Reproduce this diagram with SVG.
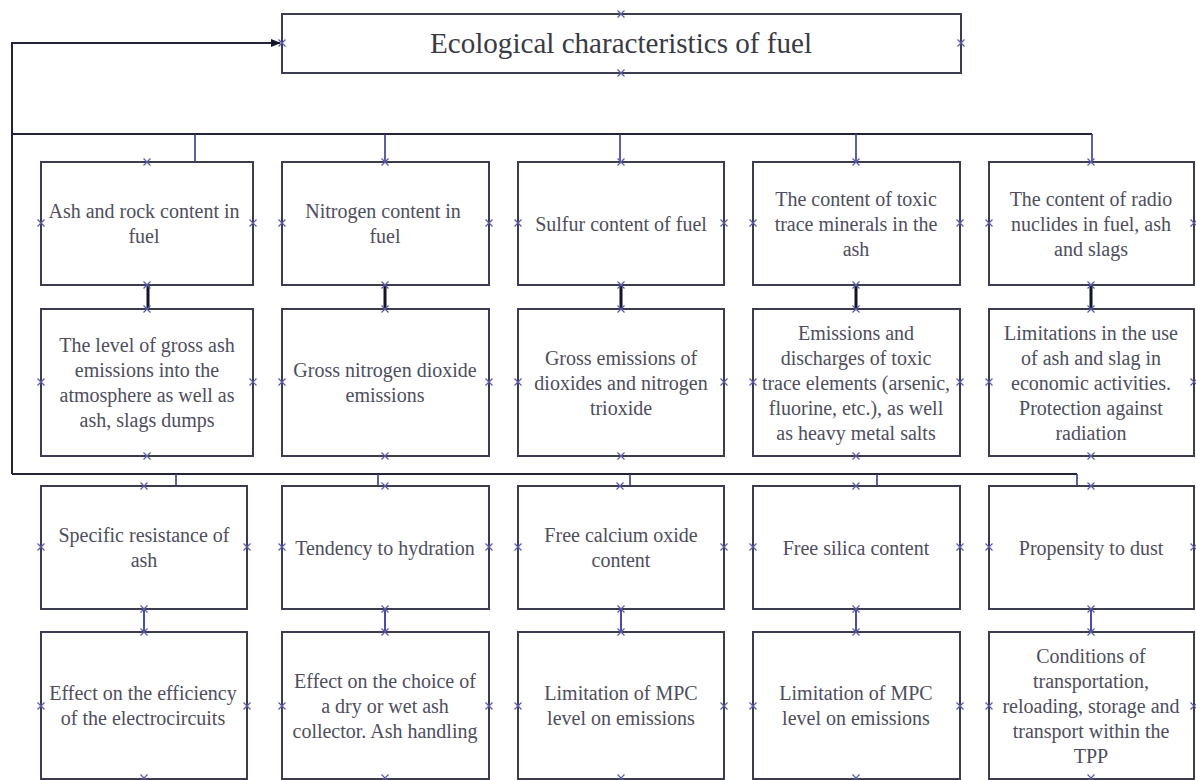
<svg xmlns="http://www.w3.org/2000/svg" xmlns:xlink="http://www.w3.org/1999/xlink" width="1196" height="780" viewBox="0 0 1196 780">
<style>
  .box { fill: #ffffff; stroke: #3c3c50; stroke-width: 2; }
  .t { font-family: "Liberation Serif", "Times New Roman", serif; font-size: 20px; fill: #4e4e5c; text-anchor: middle; }
  .title { font-family: "Liberation Serif", "Times New Roman", serif; font-size: 29px; fill: #3a3a44; text-anchor: middle; }
  .bus { fill: none; stroke: #22223a; stroke-width: 2; }
  .drop { fill: none; stroke: #3a3a8a; stroke-width: 1.6; }
  .link1 { fill: none; stroke: #15152a; stroke-width: 3; }
  .link2 { fill: none; stroke: #4a4ab0; stroke-width: 2; }
  .mk { fill: none; stroke: #5a5aa8; stroke-width: 1.2; }
</style>
<defs>
  <path id="mk" class="mk" d="M-3.5,-3.5 L3.5,3.5 M-3.5,3.5 L3.5,-3.5"/>
  <marker id="arr" markerWidth="10" markerHeight="8" refX="9" refY="4" orient="auto" markerUnits="userSpaceOnUse">
    <path d="M0,0 L10,4 L0,8 Z" fill="#15152a"/>
  </marker>
</defs>

<g id="connectors">
  <path class="bus" d="M12,474 L12,43 L280,43" marker-end="url(#arr)"/>
  <path class="bus" d="M12,134 L1092,134"/>
  <path class="drop" d="M195,134 V162 M385,134 V162 M620,134 V162 M856,134 V162 M1092,134 V162"/>
  <path class="link1" d="M148,285 V309 M385,285 V309 M621,285 V309 M856,285 V309 M1091,285 V309"/>
  <path class="bus" d="M12,474 L1077,474"/>
  <path class="drop" d="M176,474 V486 M378,474 V486 M630,474 V486 M877,474 V486 M1077,474 V486"/>
  <path class="link2" d="M144,609 V632 M385,609 V632 M621,609 V632 M856,609 V632 M1091,609 V632"/>
</g>

<g id="title">
  <rect class="box" x="282" y="14" width="679" height="59"/>
  <text class="title" x="621" y="53" textLength="382" lengthAdjust="spacingAndGlyphs">Ecological characteristics of fuel</text>
  <use href="#mk" x="621" y="14"/><use href="#mk" x="621" y="73"/><use href="#mk" x="282" y="43"/><use href="#mk" x="961" y="43"/>
</g>

<!-- Row 1 -->
<g id="r1c1">
  <rect class="box" x="41" y="162" width="212" height="123"/>
  <text class="t" x="144" y="218">Ash and rock content in</text>
  <text class="t" x="144" y="243">fuel</text>
  <use href="#mk" x="147" y="162"/><use href="#mk" x="147" y="285"/><use href="#mk" x="41" y="223"/><use href="#mk" x="253" y="223"/>
</g>
<g id="r1c2">
  <rect class="box" x="282" y="162" width="207" height="123"/>
  <text class="t" x="383" y="218">Nitrogen content in</text>
  <text class="t" x="385" y="243">fuel</text>
  <use href="#mk" x="385" y="162"/><use href="#mk" x="385" y="285"/><use href="#mk" x="282" y="223"/><use href="#mk" x="489" y="223"/>
</g>
<g id="r1c3">
  <rect class="box" x="518" y="162" width="206" height="123"/>
  <text class="t" x="621" y="230.5">Sulfur content of fuel</text>
  <use href="#mk" x="621" y="162"/><use href="#mk" x="621" y="285"/><use href="#mk" x="518" y="223"/><use href="#mk" x="724" y="223"/>
</g>
<g id="r1c4">
  <rect class="box" x="753" y="162" width="207" height="123"/>
  <text class="t" x="856" y="205.5">The content of toxic</text>
  <text class="t" x="856" y="230.5">trace minerals in the</text>
  <text class="t" x="856" y="255.5">ash</text>
  <use href="#mk" x="856" y="162"/><use href="#mk" x="856" y="285"/><use href="#mk" x="753" y="223"/><use href="#mk" x="960" y="223"/>
</g>
<g id="r1c5">
  <rect class="box" x="989" y="162" width="205" height="123"/>
  <text class="t" x="1091" y="205.5">The content of radio</text>
  <text class="t" x="1091" y="230.5">nuclides in fuel, ash</text>
  <text class="t" x="1091" y="255.5">and slags</text>
  <use href="#mk" x="1091" y="162"/><use href="#mk" x="1091" y="285"/><use href="#mk" x="989" y="223"/><use href="#mk" x="1194" y="223"/>
</g>

<!-- Row 2 -->
<g id="r2c1">
  <rect class="box" x="41" y="309" width="212" height="147"/>
  <text class="t" x="147" y="352">The level of gross ash</text>
  <text class="t" x="147" y="377">emissions into the</text>
  <text class="t" x="147" y="402">atmosphere as well as</text>
  <text class="t" x="147" y="427">ash, slags dumps</text>
  <use href="#mk" x="147" y="309"/><use href="#mk" x="147" y="456"/><use href="#mk" x="41" y="382"/><use href="#mk" x="253" y="382"/>
</g>
<g id="r2c2">
  <rect class="box" x="282" y="309" width="207" height="147"/>
  <text class="t" x="385" y="377">Gross nitrogen dioxide</text>
  <text class="t" x="385" y="402">emissions</text>
  <use href="#mk" x="385" y="309"/><use href="#mk" x="385" y="456"/><use href="#mk" x="282" y="382"/><use href="#mk" x="489" y="382"/>
</g>
<g id="r2c3">
  <rect class="box" x="518" y="309" width="206" height="147"/>
  <text class="t" x="621" y="364.5">Gross emissions of</text>
  <text class="t" x="621" y="389.5">dioxides and nitrogen</text>
  <text class="t" x="621" y="414.5">trioxide</text>
  <use href="#mk" x="621" y="309"/><use href="#mk" x="621" y="456"/><use href="#mk" x="518" y="382"/><use href="#mk" x="724" y="382"/>
</g>
<g id="r2c4">
  <rect class="box" x="753" y="309" width="207" height="147"/>
  <text class="t" x="856" y="339.5">Emissions and</text>
  <text class="t" x="856" y="364.5">discharges of toxic</text>
  <text class="t" x="856" y="389.5">trace elements (arsenic,</text>
  <text class="t" x="856" y="414.5">fluorine, etc.), as well</text>
  <text class="t" x="856" y="439.5">as heavy metal salts</text>
  <use href="#mk" x="856" y="309"/><use href="#mk" x="856" y="456"/><use href="#mk" x="753" y="382"/><use href="#mk" x="960" y="382"/>
</g>
<g id="r2c5">
  <rect class="box" x="989" y="309" width="205" height="147"/>
  <text class="t" x="1091" y="339.5">Limitations in the use</text>
  <text class="t" x="1091" y="364.5">of ash and slag in</text>
  <text class="t" x="1091" y="389.5">economic activities.</text>
  <text class="t" x="1091" y="414.5">Protection against</text>
  <text class="t" x="1091" y="439.5">radiation</text>
  <use href="#mk" x="1091" y="309"/><use href="#mk" x="1091" y="456"/><use href="#mk" x="989" y="382"/><use href="#mk" x="1194" y="382"/>
</g>

<!-- Row 3 -->
<g id="r3c1">
  <rect class="box" x="41" y="486" width="206" height="123"/>
  <text class="t" x="144" y="542">Specific resistance of</text>
  <text class="t" x="144" y="567">ash</text>
  <use href="#mk" x="144" y="486"/><use href="#mk" x="144" y="609"/><use href="#mk" x="41" y="547"/><use href="#mk" x="247" y="547"/>
</g>
<g id="r3c2">
  <rect class="box" x="282" y="486" width="207" height="123"/>
  <text class="t" x="385" y="554.5">Tendency to hydration</text>
  <use href="#mk" x="385" y="486"/><use href="#mk" x="385" y="609"/><use href="#mk" x="282" y="547"/><use href="#mk" x="489" y="547"/>
</g>
<g id="r3c3">
  <rect class="box" x="518" y="486" width="206" height="123"/>
  <text class="t" x="621" y="542">Free calcium oxide</text>
  <text class="t" x="621" y="567">content</text>
  <use href="#mk" x="620" y="486"/><use href="#mk" x="621" y="609"/><use href="#mk" x="518" y="547"/><use href="#mk" x="724" y="547"/>
</g>
<g id="r3c4">
  <rect class="box" x="753" y="486" width="207" height="123"/>
  <text class="t" x="856" y="554.5">Free silica content</text>
  <use href="#mk" x="856" y="486"/><use href="#mk" x="856" y="609"/><use href="#mk" x="753" y="547"/><use href="#mk" x="960" y="547"/>
</g>
<g id="r3c5">
  <rect class="box" x="989" y="486" width="205" height="123"/>
  <text class="t" x="1091" y="554.5">Propensity to dust</text>
  <use href="#mk" x="1091" y="486"/><use href="#mk" x="1091" y="609"/><use href="#mk" x="989" y="547"/><use href="#mk" x="1194" y="547"/>
</g>

<!-- Row 4 -->
<g id="r4c1">
  <rect class="box" x="41" y="632" width="206" height="147"/>
  <text class="t" x="143" y="700">Effect on the efficiency</text>
  <text class="t" x="143" y="725">of the electrocircuits</text>
  <use href="#mk" x="144" y="632"/><use href="#mk" x="144" y="778"/><use href="#mk" x="41" y="706"/><use href="#mk" x="247" y="706"/>
</g>
<g id="r4c2">
  <rect class="box" x="282" y="632" width="207" height="147"/>
  <text class="t" x="385" y="687.5">Effect on the choice of</text>
  <text class="t" x="385" y="712.5">a dry or wet ash</text>
  <text class="t" x="385" y="737.5">collector. Ash handling</text>
  <use href="#mk" x="385" y="632"/><use href="#mk" x="385" y="778"/><use href="#mk" x="282" y="706"/><use href="#mk" x="489" y="706"/>
</g>
<g id="r4c3">
  <rect class="box" x="518" y="632" width="206" height="147"/>
  <text class="t" x="621" y="700">Limitation of MPC</text>
  <text class="t" x="621" y="725">level on emissions</text>
  <use href="#mk" x="621" y="632"/><use href="#mk" x="621" y="778"/><use href="#mk" x="518" y="706"/><use href="#mk" x="724" y="706"/>
</g>
<g id="r4c4">
  <rect class="box" x="753" y="632" width="207" height="147"/>
  <text class="t" x="856" y="700">Limitation of MPC</text>
  <text class="t" x="856" y="725">level on emissions</text>
  <use href="#mk" x="856" y="632"/><use href="#mk" x="856" y="778"/><use href="#mk" x="753" y="706"/><use href="#mk" x="960" y="706"/>
</g>
<g id="r4c5">
  <rect class="box" x="989" y="632" width="205" height="147"/>
  <text class="t" x="1091" y="662.5">Conditions of</text>
  <text class="t" x="1091" y="687.5">transportation,</text>
  <text class="t" x="1091" y="712.5">reloading, storage and</text>
  <text class="t" x="1091" y="737.5">transport within the</text>
  <text class="t" x="1091" y="762.5">TPP</text>
  <use href="#mk" x="1091" y="632"/><use href="#mk" x="1091" y="778"/><use href="#mk" x="989" y="706"/><use href="#mk" x="1194" y="706"/>
</g>
</svg>
